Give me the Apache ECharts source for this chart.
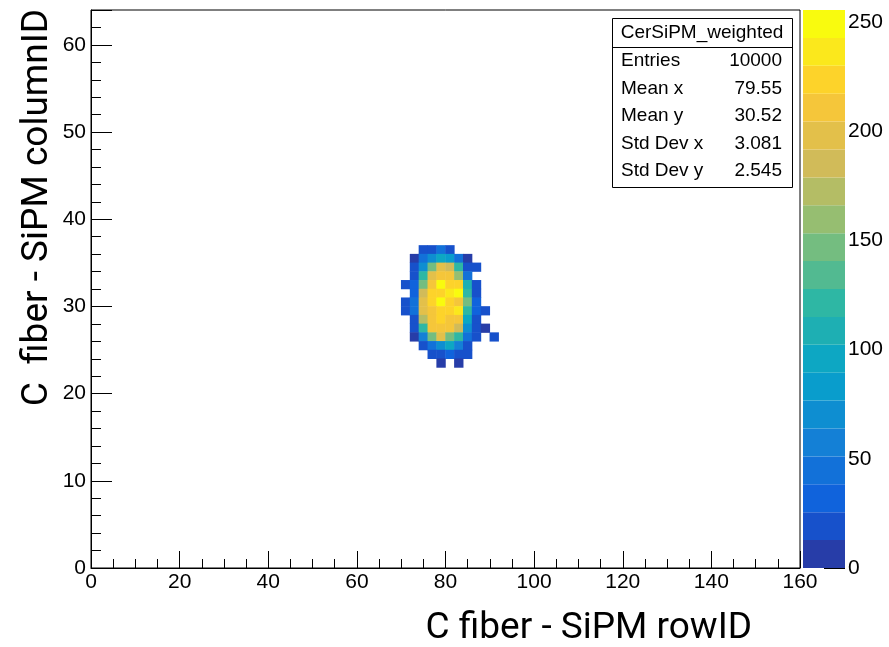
<!DOCTYPE html>
<html>
<head>
<meta charset="utf-8">
<script src="https://cdn.jsdelivr.net/npm/echarts@6/dist/echarts.min.js"></script>
<style>
html, body { margin: 0; padding: 0; background: #fff; }
#chart { width: 889px; height: 647px; }
</style>
</head>
<body>
<div id="chart"></div>
<script>
// bin lower edges of the filled region (x bins are 2 wide, y bins 1 high)
const binX = [70, 72, 74, 76, 78, 80, 82, 84, 86, 88, 90];
const rowY = [36, 35, 34, 33, 32, 31, 30, 29, 28, 27, 26, 25, 24, 23];
// weighted counts, one row per y bin (top to bottom), columns follow binX
const counts = [
    [0, 0, 15, 20, 40, 15, 0, 0, 0, 0, 0],
    [0, 12, 45, 75, 90, 80, 45, 12, 0, 0, 0],
    [0, 15, 70, 150, 200, 190, 120, 25, 15, 0, 0],
    [0, 20, 120, 200, 215, 210, 165, 40, 0, 0, 0],
    [15, 30, 150, 215, 252, 225, 220, 105, 15, 0, 0],
    [0, 35, 190, 220, 225, 240, 248, 115, 20, 0, 0],
    [15, 40, 200, 225, 255, 220, 215, 150, 30, 0, 0],
    [15, 45, 195, 215, 225, 220, 240, 120, 35, 15, 0],
    [0, 25, 170, 210, 220, 215, 210, 95, 25, 0, 0],
    [0, 15, 120, 205, 210, 205, 180, 65, 20, 12, 0],
    [0, 12, 60, 150, 200, 150, 120, 50, 15, 0, 15],
    [0, 0, 20, 50, 75, 95, 55, 20, 0, 0, 0],
    [0, 0, 0, 15, 25, 35, 20, 15, 0, 0, 0],
    [0, 0, 0, 0, 12, 0, 12, 0, 0, 0, 0]
];
const zMax = 255.5;
const nLevels = 20;

const statsTitle = 'CerSiPM_weighted';
const statsNames = ['Entries', 'Mean x', 'Mean y', 'Std Dev x', 'Std Dev y'];
const statsValues = ['10000', '79.55', '30.52', '3.081', '2.545'];

// ROOT kBird palette
const birdStops = [0.0, 0.125, 0.25, 0.375, 0.5, 0.625, 0.75, 0.875, 1.0];
const birdR = [0.2082, 0.0592, 0.0780, 0.0232, 0.1802, 0.5301, 0.8186, 0.9956, 0.9764];
const birdG = [0.1664, 0.3599, 0.5041, 0.6419, 0.7178, 0.7492, 0.7328, 0.7862, 0.9832];
const birdB = [0.5293, 0.8684, 0.8385, 0.7914, 0.6425, 0.4662, 0.3499, 0.1968, 0.0539];

function bird(t) {
    let k = 0;
    while (k < birdStops.length - 2 && t > birdStops[k + 1]) k++;
    const f = (t - birdStops[k]) / (birdStops[k + 1] - birdStops[k]);
    const c = (a) => Math.round(255 * (a[k] + f * (a[k + 1] - a[k])));
    return 'rgb(' + c(birdR) + ',' + c(birdG) + ',' + c(birdB) + ')';
}

const bandColors = [];
for (let i = 0; i < nLevels; i++) {
    const idx = Math.floor((i + 0.99) * 255 / nLevels);
    bandColors.push(bird(idx / 254));
}
const step = zMax / nLevels;

const xCats = [];
for (let i = 0; i < 80; i++) xCats.push(String(i * 2));
const yCats = [];
for (let i = 0; i < 64; i++) yCats.push(String(i));

const cells = [];
counts.forEach((row, r) => {
    row.forEach((v, c) => {
        if (v > 0) cells.push([binX[c] / 2, rowY[r], v]);
    });
});

const pieces = bandColors.map((col, i) => ({ gte: i * step, lt: (i + 1) * step, color: col }));
pieces[nLevels - 1].lte = zMax + 1;

const paletteSeries = bandColors.map((col, i) => ({
    type: 'bar',
    xAxisIndex: 2,
    yAxisIndex: 2,
    stack: 'pal',
    barWidth: '100%',
    silent: true,
    data: [step],
    itemStyle: { color: col }
}));

const font = 'Liberation Sans, Arial, sans-serif';
const titleFont = 'Roboto, Liberation Sans, sans-serif';
const tickLabel = { color: '#000', fontSize: 21, fontFamily: font };

const graphics = [
    { type: 'rect', shape: { x: 612.5, y: 18.5, width: 180, height: 169 },
      style: { fill: '#fff', stroke: '#000', lineWidth: 1 }, z: 100 },
    { type: 'line', shape: { x1: 612.5, y1: 47.5, x2: 792.5, y2: 47.5 },
      style: { stroke: '#000', lineWidth: 1 }, z: 101 },
    { type: 'text', x: 702, y: 33, z: 101,
      style: { text: statsTitle, fontSize: 19, fontFamily: font, fill: '#000', align: 'center', verticalAlign: 'middle' } },
    { type: 'text', x: 38, y: 9, rotation: Math.PI / 2, z: 101,
      style: { text: 'C  fiber - SiPM columnID', fontSize: 37, fontFamily: titleFont, fill: '#000', align: 'right', verticalAlign: 'middle' } },
    { type: 'text', x: 752, y: 629, z: 101,
      style: { text: 'C fiber - SiPM rowID', fontSize: 37, fontFamily: titleFont, fill: '#000', align: 'right', verticalAlign: 'middle' } }
];
statsNames.forEach((n, i) => {
    graphics.push({ type: 'text', x: 621, y: 61 + i * 27.5, z: 101,
        style: { text: n, fontSize: 19, fontFamily: font, fill: '#000', align: 'left', verticalAlign: 'middle' } });
    graphics.push({ type: 'text', x: 782, y: 61 + i * 27.5, z: 101,
        style: { text: statsValues[i], fontSize: 19, fontFamily: font, fill: '#000', align: 'right', verticalAlign: 'middle' } });
});

const myChart = echarts.init(document.getElementById('chart'));
const option = {
    animation: false,
    backgroundColor: '#fff',
    grid: [
        { left: 91, top: 10, width: 709, height: 558, show: true, borderColor: '#000', borderWidth: 1,
          backgroundColor: 'transparent', outerBoundsMode: 'none' },
        { left: 803, top: 10, width: 42, height: 558, outerBoundsMode: 'none' }
    ],
    xAxis: [
        {
            type: 'value', gridIndex: 0, min: 0, max: 160, interval: 20,
            axisLine: { show: true, onZero: false, lineStyle: { color: '#000', width: 1 } },
            axisTick: { show: true, inside: true, length: 17, lineStyle: { color: '#000' } },
            minorTick: { show: true, splitNumber: 4, length: 9, lineStyle: { color: '#000' } },
            axisLabel: Object.assign({ margin: 4 }, tickLabel),
            splitLine: { show: false }
        },
        {
            type: 'category', gridIndex: 0, data: xCats, show: false
        },
        {
            type: 'category', gridIndex: 1, data: ['z'], show: false
        }
    ],
    yAxis: [
        {
            type: 'value', gridIndex: 0, min: 0, max: 64, interval: 10,
            axisLine: { show: true, onZero: false, lineStyle: { color: '#000', width: 1 } },
            axisTick: { show: true, inside: true, length: 21, lineStyle: { color: '#000' } },
            minorTick: { show: true, splitNumber: 5, length: 10, lineStyle: { color: '#000' } },
            axisLabel: Object.assign({ margin: 5, showMaxLabel: false }, tickLabel),
            splitLine: { show: false }
        },
        {
            type: 'category', gridIndex: 0, data: yCats, show: false
        },
        {
            type: 'value', gridIndex: 1, min: 0, max: zMax, interval: 50, position: 'right',
            axisLine: { show: false },
            axisTick: { show: true, inside: true, length: 21, lineStyle: { color: '#000' } },
            axisLabel: Object.assign({ margin: 3, showMaxLabel: false }, tickLabel),
            splitLine: { show: false }
        }
    ],
    visualMap: {
        type: 'piecewise', show: false, seriesIndex: 0, dimension: 2, pieces: pieces
    },
    series: [
        {
            type: 'heatmap', xAxisIndex: 1, yAxisIndex: 1, data: cells,
            itemStyle: { borderWidth: 0 }, silent: true
        }
    ].concat(paletteSeries),
    graphic: graphics
};
myChart.setOption(option);
window.onresize = () => { myChart.resize(); };
</script>
</body>
</html>
